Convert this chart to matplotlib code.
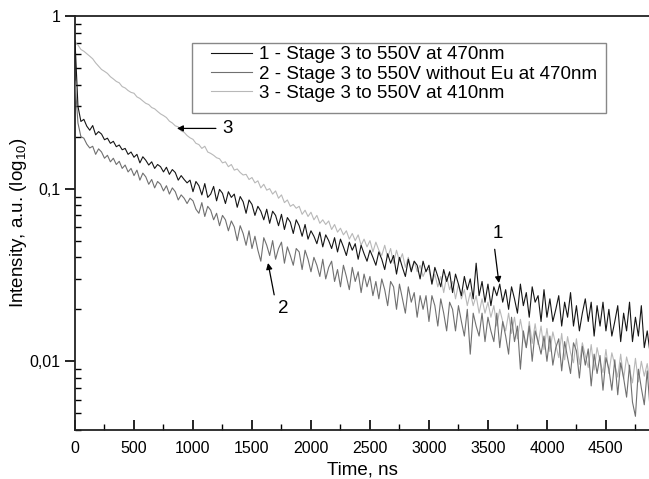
import numpy as np
import matplotlib
matplotlib.use("Agg")
import matplotlib.pyplot as plt
import matplotlib.ticker as ticker
import matplotlib.patches as patches

plt.rcParams['font.family'] = ['Liberation Sans', 'DejaVu Sans']
plt.rcParams['mathtext.default'] = 'regular'

# time base of the decay traces, ns (25 ns step)
time_ns = np.arange(0, 4900, 25)

# 1 - Stage 3 to 550V at 470nm
stage3_470 = [
    0.72, 0.30, 0.245, 0.252, 0.230, 0.218, 0.232, 0.205, 0.214, 0.207,
    0.192, 0.196, 0.183, 0.188, 0.175, 0.179, 0.168, 0.171, 0.158, 0.163,
    0.152, 0.158, 0.141, 0.153, 0.146, 0.137, 0.143, 0.131, 0.138, 0.134,
    0.125, 0.133, 0.121, 0.129, 0.124, 0.112, 0.119, 0.113, 0.108, 0.112,
    0.096, 0.110, 0.104, 0.092, 0.107, 0.089, 0.093, 0.103, 0.085, 0.099,
    0.094, 0.082, 0.096, 0.089, 0.093, 0.078, 0.090, 0.084, 0.072, 0.086,
    0.081, 0.070, 0.079, 0.074, 0.066, 0.076, 0.063, 0.074, 0.070, 0.061,
    0.071, 0.058, 0.068, 0.064, 0.055, 0.066, 0.061, 0.053, 0.062, 0.051,
    0.057, 0.053, 0.048, 0.056, 0.046, 0.054, 0.050, 0.045, 0.052, 0.043,
    0.051, 0.046, 0.041, 0.049, 0.044, 0.048, 0.039, 0.047, 0.042, 0.038,
    0.044, 0.040, 0.036, 0.043, 0.039, 0.034, 0.042, 0.037, 0.041, 0.032,
    0.040, 0.035, 0.031, 0.039, 0.033, 0.038, 0.036, 0.030, 0.038, 0.033,
    0.036, 0.028, 0.035, 0.031, 0.027, 0.034, 0.029, 0.033, 0.025, 0.032,
    0.028, 0.024, 0.031, 0.026, 0.030, 0.023, 0.037, 0.024, 0.029, 0.022,
    0.028, 0.021, 0.027, 0.024, 0.028, 0.022, 0.026, 0.020, 0.027, 0.023,
    0.019, 0.028, 0.021, 0.025, 0.018, 0.027, 0.022, 0.024, 0.017, 0.026,
    0.018, 0.023, 0.017, 0.020, 0.024, 0.016, 0.022, 0.018, 0.025, 0.016,
    0.021, 0.015, 0.019, 0.023, 0.017, 0.022, 0.014, 0.021, 0.016, 0.022,
    0.015, 0.020, 0.014, 0.017, 0.021, 0.013, 0.019, 0.015, 0.022, 0.013,
    0.018, 0.014, 0.021, 0.012, 0.015, 0.011,
]

# 2 - Stage 3 to 550V without Eu at 470nm
stage3_no_eu = [
    0.42, 0.24, 0.200, 0.196, 0.181, 0.172, 0.176, 0.158, 0.170, 0.163,
    0.150, 0.156, 0.143, 0.150, 0.138, 0.144, 0.131, 0.137, 0.125, 0.131,
    0.119, 0.128, 0.112, 0.123, 0.117, 0.106, 0.113, 0.101, 0.110, 0.106,
    0.097, 0.104, 0.093, 0.101, 0.096, 0.086, 0.092, 0.088, 0.082, 0.088,
    0.085, 0.076, 0.072, 0.083, 0.069, 0.079, 0.075, 0.066, 0.072, 0.061,
    0.070, 0.066, 0.057, 0.065, 0.060, 0.050, 0.061, 0.055, 0.047, 0.057,
    0.045, 0.053, 0.044, 0.038, 0.052, 0.047, 0.041, 0.050, 0.039, 0.045,
    0.049, 0.037, 0.046, 0.041, 0.036, 0.045, 0.043, 0.034, 0.044, 0.039,
    0.033, 0.040, 0.036, 0.031, 0.039, 0.030, 0.035, 0.038, 0.029, 0.034,
    0.027, 0.036, 0.031, 0.026, 0.035, 0.029, 0.033, 0.025, 0.032, 0.027,
    0.031, 0.024, 0.029, 0.023, 0.030, 0.026, 0.021, 0.029, 0.027, 0.020,
    0.028, 0.023, 0.019, 0.027, 0.022, 0.025, 0.018, 0.024, 0.020, 0.024,
    0.017, 0.024, 0.021, 0.016, 0.023, 0.019, 0.015, 0.022, 0.020, 0.015,
    0.021, 0.017, 0.014, 0.020, 0.011, 0.019, 0.016, 0.014, 0.019, 0.013,
    0.018, 0.015, 0.013, 0.019, 0.012, 0.017, 0.014, 0.011, 0.018, 0.013,
    0.016, 0.009, 0.015, 0.012, 0.016, 0.010, 0.015, 0.013, 0.011, 0.014,
    0.010, 0.014, 0.0095, 0.012, 0.0135, 0.0088, 0.013, 0.0105, 0.0085, 0.0128,
    0.0115, 0.0080, 0.0122, 0.0095, 0.0118, 0.0072, 0.011, 0.0085, 0.0108, 0.0068,
    0.0105, 0.0090, 0.0068, 0.0102, 0.0064, 0.0098, 0.0080, 0.0062, 0.0095, 0.0058,
    0.0048, 0.0090, 0.0070, 0.0056, 0.0088, 0.0052,
]

# 3 - Stage 3 to 550V at 410nm
stage3_410 = [
    0.70, 0.68, 0.64, 0.625, 0.605, 0.585, 0.565, 0.535, 0.512, 0.49,
    0.478, 0.465, 0.445, 0.432, 0.418, 0.41, 0.39, 0.383, 0.37, 0.361,
    0.357, 0.340, 0.333, 0.322, 0.312, 0.307, 0.295, 0.290, 0.280, 0.271,
    0.265, 0.258, 0.246, 0.240, 0.231, 0.228, 0.216, 0.212, 0.203, 0.197,
    0.193, 0.183, 0.180, 0.171, 0.176, 0.163, 0.160, 0.156, 0.151, 0.149,
    0.141, 0.143, 0.134, 0.138, 0.128, 0.130, 0.124, 0.120, 0.121, 0.113,
    0.116, 0.108, 0.111, 0.101, 0.106, 0.098, 0.100, 0.093, 0.097, 0.088,
    0.092, 0.083, 0.086, 0.079, 0.081, 0.077, 0.079, 0.071, 0.075, 0.069,
    0.073, 0.066, 0.070, 0.063, 0.066, 0.062, 0.065, 0.058, 0.062, 0.056,
    0.059, 0.054, 0.057, 0.051, 0.055, 0.050, 0.054, 0.047, 0.051, 0.046,
    0.050, 0.043, 0.049, 0.044, 0.041, 0.047, 0.040, 0.045, 0.037, 0.044,
    0.038, 0.042, 0.035, 0.040, 0.034, 0.038, 0.033, 0.036, 0.031, 0.034,
    0.034, 0.028, 0.032, 0.027, 0.031, 0.025, 0.031, 0.026, 0.029, 0.023,
    0.028, 0.023, 0.026, 0.021, 0.025, 0.021, 0.024, 0.019, 0.023, 0.019,
    0.022, 0.018, 0.021, 0.016, 0.020, 0.017, 0.015, 0.019, 0.0145, 0.018,
    0.0135, 0.0175, 0.014, 0.012, 0.017, 0.0127, 0.0165, 0.0125, 0.016, 0.0117,
    0.0155, 0.0114, 0.0148, 0.0125, 0.0105, 0.0145, 0.0102, 0.0139, 0.0112, 0.0098,
    0.0135, 0.0096, 0.0128, 0.0108, 0.0092, 0.0125, 0.0089, 0.0120, 0.0100, 0.0086,
    0.0117, 0.0085, 0.0112, 0.0095, 0.0081, 0.0110, 0.0079, 0.0106, 0.0090, 0.0075,
    0.0104, 0.0076, 0.0100, 0.0082, 0.0097, 0.0072,
]

labels = ['1 - Stage 3 to 550V at 470nm',
          '2 - Stage 3 to 550V without Eu at 470nm',
          '3 - Stage 3 to 550V at 410nm']
colors = ['#151515', '#707070', '#b8b8b8']

fig = plt.figure(figsize=(6.49, 4.79), dpi=100)
ax = fig.add_axes([75 / 649, 1 - 430 / 479, 574 / 649, 414 / 479])

for ys, lab, c, z in zip([stage3_470, stage3_no_eu, stage3_410], labels, colors, [4, 3, 2]):
    ax.plot(time_ns, ys, color=c, lw=0.8, label=lab, zorder=z)

ax.set_yscale('log')
ax.set_xlim(0, 4865)
ax.set_ylim(0.004, 1)

ax.xaxis.set_major_locator(ticker.MultipleLocator(500))
ax.xaxis.set_minor_locator(ticker.MultipleLocator(250))
ax.yaxis.set_major_locator(ticker.FixedLocator([0.01, 0.1, 1]))
ax.yaxis.set_major_formatter(ticker.FuncFormatter(lambda v, p: ('%g' % v).replace('.', ',')))
ax.yaxis.set_minor_locator(ticker.LogLocator(base=10, subs=np.arange(2, 10)))
ax.yaxis.set_minor_formatter(ticker.NullFormatter())

ax.tick_params(axis='x', which='major', direction='in', length=7, width=1.2, labelsize=11.5, pad=8)
ax.tick_params(axis='x', which='minor', direction='in', length=4, width=1.0)
ax.tick_params(axis='y', which='major', direction='out', length=7, width=1.2, labelsize=11.5)
ax.tick_params(axis='y', which='minor', direction='in', length=4, width=1.0)
ax.tick_params(top=False, right=False, which='both')

ax.spines['right'].set_visible(False)
for s in ['top', 'left', 'bottom']:
    ax.spines[s].set_linewidth(1.3)
    ax.spines[s].set_color('#222222')

ax.set_xlabel('Time, ns', fontsize=13.5)
ax.set_ylabel('Intensity, a.u. (log$_{10}$)', fontsize=13.5, labelpad=0)

leg = ax.legend(loc='upper left', bbox_to_anchor=(0.237, 0.9275), frameon=False,
                borderpad=0, borderaxespad=0, handlelength=2.2, handletextpad=0.35,
                labelspacing=0.12, fontsize=13.5)
ax.add_patch(patches.Rectangle((0.2038, 0.7657), 0.7213, 0.169, transform=ax.transAxes,
                               fill=False, edgecolor='#888888', lw=1.0, clip_on=False, zorder=5))

arrow = dict(arrowstyle='-|>', color='black', lw=0.9, mutation_scale=9, shrinkA=3, shrinkB=0)
ax.annotate('3', xy=(864, 0.2233), xytext=(1297, 0.2233), fontsize=13.5, ha='center', va='center',
            arrowprops=dict(arrow, relpos=(0, 0.5)))
ax.annotate('1', xy=(3593, 0.0284), xytext=(3585, 0.0547), fontsize=13.5, ha='center', va='center',
            arrowprops=dict(arrow, relpos=(0.1, 0)))
ax.annotate('2', xy=(1636, 0.0371), xytext=(1763, 0.0203), fontsize=13.5, ha='center', va='center',
            arrowprops=dict(arrow, relpos=(0, 0.2)))

fig.savefig('out.png', dpi=100)
